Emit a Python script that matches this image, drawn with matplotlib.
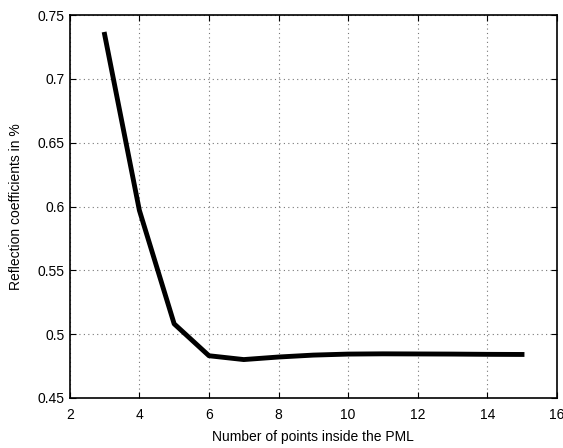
import matplotlib
matplotlib.use('Agg')
import matplotlib.pyplot as plt

plt.rcParams['font.family'] = ['Liberation Sans', 'DejaVu Sans']

# Data
n_points = [3, 4, 5, 6, 7, 8, 9, 10, 11, 12, 13, 14, 15]
reflection = [0.735, 0.597, 0.508, 0.483, 0.480, 0.482, 0.4835, 0.4843, 0.4845, 0.4844, 0.4843, 0.4841, 0.4840]

x_ticks = [2, 4, 6, 8, 10, 12, 14, 16]
y_ticks = [0.45, 0.5, 0.55, 0.6, 0.65, 0.7, 0.75]
y_labels = ['0.45', '0.5', '0.55', '0.6', '0.65', '0.7', '0.75']


def main():
    fig = plt.figure(figsize=(5.63, 4.48), dpi=100)
    ax = fig.add_axes([0.124, 0.112, 0.865, 0.854])

    ax.plot(n_points, reflection, color='black', linewidth=3.5)

    ax.set_xlim(2, 16)
    ax.set_ylim(0.45, 0.75)
    ax.set_xticks(x_ticks)
    ax.set_yticks(y_ticks)
    ax.set_yticklabels(y_labels)

    ax.grid(True, linestyle=(0, (1, 3)), color='#777777', linewidth=0.8)
    ax.tick_params(direction='in', top=True, right=True, labelsize=10, length=4)
    ax.tick_params(axis='x', pad=7)
    ax.tick_params(axis='y', pad=4)
    for spine in ax.spines.values():
        spine.set_linewidth(1.2)

    ax.set_xlabel('Number of points inside the PML', fontsize=10, labelpad=6)
    ax.set_ylabel('Reflection coefficients in %', fontsize=10, labelpad=10)

    fig.savefig('out.png', dpi=100)


if __name__ == "__main__":
    main()
